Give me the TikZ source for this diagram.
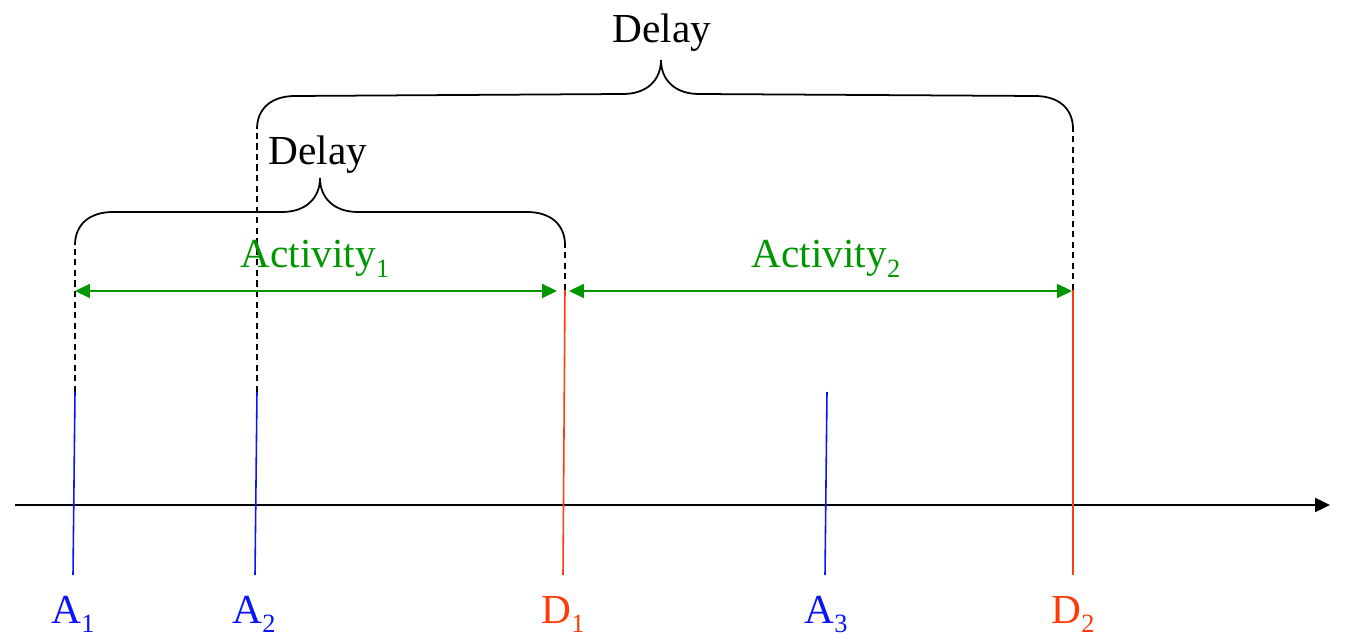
\documentclass[tikz,border=0pt]{standalone}
\usepackage{fontspec}
\setmainfont{Liberation Serif}
\usepackage{tikz}
\usetikzlibrary{arrows.meta,calc}
\definecolor{arrivalblue}{RGB}{10,20,250}
\definecolor{departred}{RGB}{255,60,10}
\definecolor{activitygreen}{RGB}{0,150,0}
\newcommand{\lowsub}[1]{\raisebox{-5.5pt}{\fontsize{15}{18}\selectfont #1}}
\tikzset{
  base/.style={font=\fontsize{23.5}{28}\selectfont, inner sep=0pt},
  lbl/.style={base, anchor=base},
  arrtick/.style={line width=0.9pt, draw=arrivalblue},
  deptick/.style={line width=0.9pt, draw=departred},
  guide/.style={line width=0.8pt, dash pattern=on 3.5pt off 2.5pt},
  span/.style={line width=0.9pt, draw=activitygreen, {Triangle[length=8.5pt,width=8pt]}-{Triangle[length=8.5pt,width=8pt]}},
  axis/.style={line width=1.1pt, -{Triangle[length=8.5pt,width=8pt]}},
  bracepath/.style={line width=1pt},
}
% curly brace: #1 left end, #2 right end, #3 tip
\newcommand{\timebrace}[3]{%
  \draw[bracepath] (#1) .. controls ($(#1)+(0,-20)$) and ($(#1)+(14,-33)$) .. ($(#1)+(38,-33)$)
    -- ($(#3)+(-38,34)$) .. controls ($(#3)+(-14,34)$) and ($(#3)+(0,20)$) .. (#3)
    .. controls ($(#3)+(0,20)$) and ($(#3)+(14,34)$) .. ($(#3)+(38,34)$)
    -- ($(#2)+(-38,-33)$) .. controls ($(#2)+(-14,-33)$) and ($(#2)+(0,-20)$) .. (#2);}
\begin{document}
\begin{tikzpicture}[x=0.02cm,y=-0.02cm]
  \useasboundingbox (0,0) rectangle (1350,638);
  % time axis
  \coordinate (t0) at (15,505);
  \coordinate (t1) at (1330,505);
  \draw[axis] (t0) -- (t1);
  % arrivals and departures
  \coordinate (a1top) at (75,392);   \coordinate (a1bot) at (73,575);
  \coordinate (a2top) at (257,392);  \coordinate (a2bot) at (255,575);
  \coordinate (d1top) at (565,290);  \coordinate (d1bot) at (563,575);
  \coordinate (a3top) at (827,392);  \coordinate (a3bot) at (825,575);
  \coordinate (d2top) at (1073,290); \coordinate (d2bot) at (1073,575);
  \draw[arrtick] (a1bot) -- (a1top);
  \draw[arrtick] (a2bot) -- (a2top);
  \draw[arrtick] (a3bot) -- (a3top);
  \draw[deptick] (d1bot) -- (d1top);
  \draw[deptick] (d2bot) -- (d2top);
  \node[lbl,text=arrivalblue] (a1) at (73,623) {A\lowsub{1}};
  \node[lbl,text=arrivalblue] (a2) at (254,623) {A\lowsub{2}};
  \node[lbl,text=departred]   (d1) at (563,623) {D\lowsub{1}};
  \node[lbl,text=arrivalblue] (a3) at (826,623) {A\lowsub{3}};
  \node[lbl,text=departred]   (d2) at (1073,623) {D\lowsub{2}};
  % dashed guides up to the braces
  \coordinate (b1l) at (75,245);
  \coordinate (b1r) at (565,245);
  \coordinate (b2l) at (257,129);
  \coordinate (b2r) at (1073,129);
  \draw[guide] (a1top) -- (b1l);
  \draw[guide] (a2top) -- (b2l);
  \draw[guide] (d1top) -- (b1r);
  \draw[guide] (d2top) -- (b2r);
  % activities
  \coordinate (s1l) at (75,291);  \coordinate (s1r) at (557,291);
  \coordinate (s2l) at (569,291); \coordinate (s2r) at (1072,291);
  \draw[span] (s1l) -- (s1r);
  \draw[span] (s2l) -- (s2r);
  \node[lbl,text=activitygreen] (act1) at (315,268) {Activity\lowsub{1}};
  \node[lbl,text=activitygreen] (act2) at (826,268) {Activity\lowsub{2}};
  % delays
  \coordinate (b1tip) at (320,178);
  \coordinate (b2tip) at (661,60);
  \timebrace{b1l}{b1r}{b1tip}
  \timebrace{b2l}{b2r}{b2tip}
  \node[lbl] (delay1) at (318,165) {Delay};
  \node[lbl] (delay2) at (662,43) {Delay};
\end{tikzpicture}
\end{document}
